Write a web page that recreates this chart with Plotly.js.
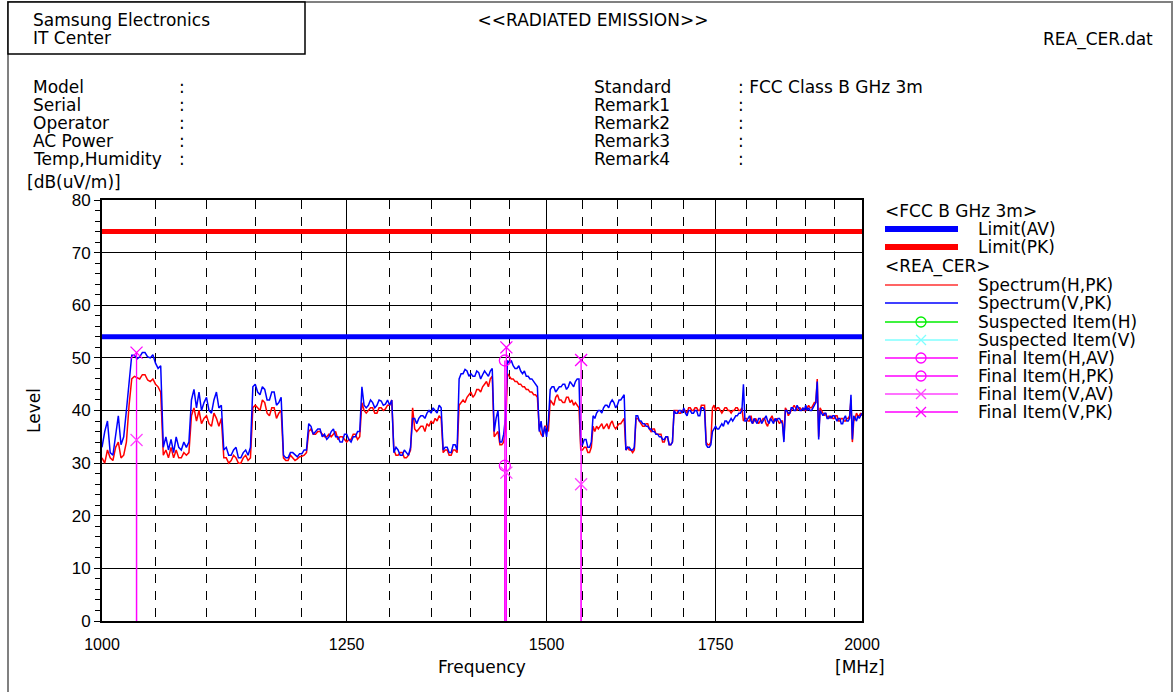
<!DOCTYPE html>
<html><head><meta charset="utf-8">
<script src="https://cdn.plot.ly/plotly-3.0.1.min.js"></script>
<style>html,body{margin:0;padding:0;background:#fff}#chart{width:1174px;height:692px}</style>
</head><body><div id="chart"></div>
<script>
// ---------- data ----------
const freq = [
1000,1002.5,1005,1007.5,1010,1012.5,1015,1017.5,1020,1022.5,1025,1027.5,1030,1032.5,1035,1037.5,1040,1042.5,1045,1047.5,
1050,1052.5,1055,1057.5,1060,1062.5,1065,1067.5,1070,1072.5,1075,1077.5,1080,1082.5,1085,1087.5,1090,1092.5,1095,1097.5,
1100,1102.5,1105,1107.5,1110,1112.5,1115,1117.5,1120,1122.5,1125,1127.5,1130,1132.5,1135,1137.5,1140,1142.5,1145,1147.5,
1150,1152.5,1155,1157.5,1160,1162.5,1165,1167.5,1170,1172.5,1175,1177.5,1180,1182.5,1185,1187.5,1190,1192.5,1195,1197.5,
1200,1202.5,1205,1207.5,1210,1212.5,1215,1217.5,1220,1222.5,1225,1227.5,1230,1232.5,1235,1237.5,1240,1242.5,1245,1247.5,
1250,1252.5,1255,1257.5,1260,1262.5,1265,1267.5,1270,1272.5,1275,1277.5,1280,1282.5,1285,1287.5,1290,1292.5,1295,1297.5,
1300,1302.5,1305,1307.5,1310,1312.5,1315,1317.5,1320,1322.5,1325,1327.5,1330,1332.5,1335,1337.5,1340,1342.5,1345,1347.5,
1350,1352.5,1355,1357.5,1360,1362.5,1365,1367.5,1370,1372.5,1375,1377.5,1380,1382.5,1385,1387.5,1390,1392.5,1395,1397.5,
1400,1402.5,1405,1407.5,1410,1412.5,1415,1417.5,1420,1422.5,1425,1427.5,1430,1432.5,1435,1437.5,1440,1442.5,1445,1447.5,
1450,1452.5,1455,1457.5,1460,1462.5,1465,1467.5,1470,1472.5,1475,1477.5,1480,1482.5,1485,1487.5,1490,1492.5,1495,1497.5,
1500,1502.5,1505,1507.5,1510,1512.5,1515,1517.5,1520,1522.5,1525,1527.5,1530,1532.5,1535,1537.5,1540,1542.5,1545,1547.5,
1550,1552.5,1555,1557.5,1560,1562.5,1565,1567.5,1570,1572.5,1575,1577.5,1580,1582.5,1585,1587.5,1590,1592.5,1595,1597.5,
1600,1602.5,1605,1607.5,1610,1612.5,1615,1617.5,1620,1622.5,1625,1627.5,1630,1632.5,1635,1637.5,1640,1642.5,1645,1647.5,
1650,1652.5,1655,1657.5,1660,1662.5,1665,1667.5,1670,1672.5,1675,1677.5,1680,1682.5,1685,1687.5,1690,1692.5,1695,1697.5,
1700,1702.5,1705,1707.5,1710,1712.5,1715,1717.5,1720,1722.5,1725,1727.5,1730,1732.5,1735,1737.5,1740,1742.5,1745,1747.5,
1750,1752.5,1755,1757.5,1760,1762.5,1765,1767.5,1770,1772.5,1775,1777.5,1780,1782.5,1785,1787.5,1790,1792.5,1795,1797.5,
1800,1802.5,1805,1807.5,1810,1812.5,1815,1817.5,1820,1822.5,1825,1827.5,1830,1832.5,1835,1837.5,1840,1842.5,1845,1847.5,
1850,1852.5,1855,1857.5,1860,1862.5,1865,1867.5,1870,1872.5,1875,1877.5,1880,1882.5,1885,1887.5,1890,1892.5,1895,1897.5,
1900,1902.5,1905,1907.5,1910,1912.5,1915,1917.5,1920,1922.5,1925,1927.5,1930,1932.5,1935,1937.5,1940,1942.5,1945,1947.5,
1950,1952.5,1955,1957.5,1960,1962.5,1965,1967.5,1970,1972.5,1975,1977.5,1980,1982.5,1985,1987.5,1990,1992.5,1995,1997.5,
2000];
const spectrumV = [
33,36,38,32,31.5,35,39,33.5,35,40,46,50.5,50.5,49.8,50.2,51,51,50.2,50,50.6,
49,48,48.5,33,35,32.5,34.5,32,35,33,32.5,34,33,34,42,44,40.5,43.5,40,41.5,
42.5,40,39.5,42,43.5,40.5,41,32.5,33,31.5,31.5,32.5,33,31,31,32,32.5,31.5,33,44.5,
45,43.5,43,44.5,44,42,42,43.5,43.5,41,41.5,42.5,31.5,31,31,32,32,31.5,31.2,31.8,
31.8,32.5,32.5,37.5,37,35.5,36,36.5,36.5,35,35.5,34.5,35,36,36.5,35,35,34,34,35.5,
35.5,34.5,34,35,35,36,36,44.5,41,40.5,41,42,41.5,40.5,41,42,41.8,41,41.2,42,
41,42,32,33,32.5,31.5,31.5,32.5,32,31.5,33,38.5,38.5,37.5,38.5,39,39,38.5,39.5,40,
39.5,40.5,40,39.5,41,40.5,32.5,33,33,32,32,33.5,33.5,32.5,46,47,47,47.8,47.5,46.5,
47,46.5,46.5,47.5,47.2,46,46.8,47.5,47,46.5,47.5,48,36,38.5,40,34,34,35.5,39,49.5,
49,49.5,48.5,48,48,48.5,47.5,47,47.5,46.5,46.5,46,46,45.5,45,44.5,36,38,35,37,
35,38,44,44.5,44.5,43.5,44,44.5,44.5,45,45,44,44.5,45.5,45,44.5,45.5,46,46,33.5,
33.5,34.5,34.5,33,33,34,39,38.5,39.5,40,40,39.5,40.5,41,41,40.5,41.5,42,41.5,40.5,
41,42,42,42.5,43,32.5,33,33,32.5,32.5,33,39,39,38,38,37.5,37.5,37,37,36.5,
36.5,36,36,35.5,35.5,35,35,34.5,34.5,35,35,33.5,33.5,34,40,39.5,39.5,40,40,39.5,
40.5,39.5,39,40,40,39.5,39.5,40,40,39,39,40.5,40.5,40,33.5,33,33,33.5,36,36.5,
37,36.5,36.5,37,37.5,37,38,38,37.5,38,38.5,38,38.5,39,39,39.5,39.5,40,45,38,
38,38.5,39,38,37.5,38.5,38,37.5,38.5,38.5,37.5,38,38.5,39,38,37.5,38.5,38,37.5,38.5,
38,38.5,38.5,38,37.5,34,40,40,39.5,39.5,40.5,40.5,40,40,41,40.5,40,40,40.5,40,
41,40,40.5,40,40,40.5,41,41.5,45.5,34.5,40,39.5,39,39.5,39.5,38.5,38.5,39,38.5,39,
39,38.5,38,38.5,38.5,37.5,37.5,38.5,39,38,38,38.5,43,34.5,39,38.5,38,39,38.5,39,
39.5];
const spectrumH = [
31,30,32.5,31,30.5,33,34,31,31.5,34,41,46,46.5,46.2,46,46.8,46.8,45.8,45.5,46,
45,44.5,43.5,31.5,32.5,31,33,31,32.5,31,31,32,31.5,32,39,40.5,38,40,37.5,38.5,
39,37.5,37,39.5,38.5,37,38.5,31,31,30,30.5,31.5,31,30,30,31,31.5,30.5,31,40.5,
41,40.5,40,42,41.5,39.5,39,40.5,40.5,38.5,39.5,40,31,30.5,30.5,31.5,31,30.5,30.8,31.2,
31.3,31.5,32,36,36.5,35.5,35.5,36,36,35.5,35,35,35.5,35,35.5,36,34.5,35,35,34.5,
34,34.5,34.5,35.5,35.5,34.5,35,41.5,40,39.5,40,40.5,40.5,39.5,39.5,40.5,40.5,40,40.3,41,
41,42,32.5,31.5,31.5,32,32,31,31,31.5,32.5,40.5,36.5,36,36.5,37,37,36,37.5,37,
38,37.5,38.5,38,39,38.5,32,32.5,32.5,31.5,31.5,32.5,32.5,32,41,41.5,42,41.5,42.5,43,
43.5,42.5,43,44,44,43.5,44.5,45,45.5,44.5,46,46.5,35,35.5,36,33.5,33.5,34,36.5,47,
46.5,46,46,45.5,45.5,45,45,44.5,44.5,44,44,43.5,43.5,43,43,42.5,36.5,35.5,35,37,
37,36,42,41.5,41,42.5,43,42,42,41.5,41.5,42.5,42.5,41.5,42,41,41.5,41,40.5,32.5,
32.5,33,33,32,32,33,37,36,37,36.5,37,37.5,36.5,37,37.5,36.5,37.5,38,37,36.5,
37,37.5,37.5,38,38.5,32.5,33,32.5,32.5,32,32.5,38.5,38.5,38,37.5,37,37,37.5,37.5,36.5,
36,36.5,36.5,35.5,35.5,35.5,35.5,34,34,35,35,33.5,33.5,34,40,40,40,39.5,39.5,40,
40,40,39.5,40.5,40.5,40,40,40.5,40.5,40,40,41,41,41,34,33.5,33.5,34,40.5,41,
40,40.5,40.5,40,39.5,40,40.5,40.5,40,40,39.5,40,40,40.5,40.5,40,40,40.5,38,38.5,
38.5,38,38,39,37.5,38,38.5,38,37.5,38,38,38.5,38.5,37.5,37,38,38.5,39,38,38,
38.5,38,37.5,38,38,34.5,40.5,40,39,39.5,40,40.5,41,40.5,40,40.5,40.5,40,40.5,40,
40,40.5,41,40.5,40.5,41,41.5,41.5,46,35,40.5,40,39.5,39,39.5,38.5,39,38.5,39,38.5,
38.5,39,39,38,38,38.5,38.5,38,38,38.5,38.5,39,42,34,38,38.5,39.5,39,39,39.5,
39];
const limitFreq = [1000, 2000];
const limitAV = [54, 54];
const limitPK = [74, 74];
const finalHAVFreq = [1444], finalHAV = [29.5];
const finalHPKFreq = [1444], finalHPK = [49.5];
const finalVAVFreq = [1032, 1446, 1548], finalVAV = [34.4, 28.2, 26];
const finalVPKFreq = [1032, 1446, 1548], finalVPK = [51, 52, 49.6];
const xTickVals = [1000, 1250, 1500, 1750, 2000];
const xTickText = ['1000', '1250', '1500', '1750', '2000'];
const xMinorVals = [1050,1100,1150,1200,1300,1350,1400,1450,1550,1600,1650,1700,1800,1850,1900,1950];
const yTickVals = [0,10,20,30,40,50,60,70,80];

// ---------- helpers ----------
const FONT = 'DejaVu Sans, Verdana, sans-serif';
const TFONT = 'Liberation Sans, Arial, sans-serif';
const PL = 102, PR = 862, PT = 200, PB = 621;
const px = x => (x - PL) / (PR - PL);
const py = y => (PB - y) / (PB - PT);
function stems(fs, vs) {
  const X = [], Y = [];
  fs.forEach((f, i) => { X.push(f, f, null); Y.push(0, vs[i], null); });
  return {X, Y};
}
const MAG = '#ff00ff', MAG2 = '#ff44ff';

const traces = [
  {x: limitFreq, y: limitPK, mode: 'lines', line: {color: '#ff0000', width: 5}, name: 'Limit(PK)'},
  {x: limitFreq, y: limitAV, mode: 'lines', line: {color: '#0000ff', width: 5}, name: 'Limit(AV)'},
  {x: freq, y: spectrumH, mode: 'lines', line: {color: '#ff0000', width: 1.5}, name: 'Spectrum(H,PK)'},
  {x: freq, y: spectrumV, mode: 'lines', line: {color: '#0000ff', width: 1.5}, name: 'Spectrum(V,PK)'}
];
[[finalHAVFreq, finalHAV, MAG], [finalHPKFreq, finalHPK, MAG], [finalVAVFreq, finalVAV, MAG2], [finalVPKFreq, finalVPK, MAG]].forEach(([f, v, c]) => {
  const s = stems(f, v);
  traces.push({x: s.X, y: s.Y, mode: 'lines', line: {color: c, width: 1.3}, hoverinfo: 'skip'});
});
traces.push({x: finalHAVFreq, y: finalHAV, mode: 'markers', name: 'Final Item(H,AV)', marker: {symbol: 'circle-open', size: 11, color: MAG, line: {width: 1.3}}});
traces.push({x: finalHPKFreq, y: finalHPK, mode: 'markers', name: 'Final Item(H,PK)', marker: {symbol: 'circle-open', size: 11, color: MAG, line: {width: 1.3}}});
traces.push({x: finalVAVFreq, y: finalVAV, mode: 'markers', name: 'Final Item(V,AV)', marker: {symbol: 'x-thin-open', size: 12, color: MAG2, line: {width: 1.3, color: MAG2}}});
traces.push({x: finalVPKFreq, y: finalVPK, mode: 'markers', name: 'Final Item(V,PK)', marker: {symbol: 'x-thin-open', size: 12, color: MAG, line: {width: 1.3, color: MAG}}});

// ---------- annotations ----------
const anns = [];
function ann(text, x, y, xanchor, extra) {
  anns.push(Object.assign({text, x: px(x), y: py(y), xref: 'paper', yref: 'paper', xanchor: xanchor || 'left', yanchor: 'middle', showarrow: false, font: {family: FONT, size: 17, color: '#000'}, borderpad: 0}, extra || {}));
}
ann('Samsung Electronics', 32, 20);
ann('IT Center', 32, 38);
ann('REA_CER.dat', 1154, 39, 'right');
const leftLabels = ['Model', 'Serial', 'Operator', 'AC Power', 'Temp,Humidity'];
const rightLabels = ['Standard', 'Remark1', 'Remark2', 'Remark3', 'Remark4'];
const rightValues = [': FCC Class B GHz 3m', ':', ':', ':', ':'];
leftLabels.forEach((t, i) => { ann(t, 32, 87 + 18 * i); ann(':', 178, 87 + 18 * i); });
rightLabels.forEach((t, i) => { ann(t, 593, 87 + 18 * i); ann(rightValues[i], 737, 87 + 18 * i); });
ann('[dB(uV/m)]', 26, 182);
ann('[MHz]', 834, 667);

// legend (drawn)
const shapes = [];
const legRows = [
  {head: '<FCC B GHz 3m>', y: 211},
  {text: 'Limit(AV)', y: 229, color: '#0000ff', w: 6},
  {text: 'Limit(PK)', y: 247, color: '#ff0000', w: 6},
  {head: '<REA_CER>', y: 266},
  {text: 'Spectrum(H,PK)', y: 285, color: '#ff3030', w: 1.3},
  {text: 'Spectrum(V,PK)', y: 303, color: '#0000ff', w: 1.3},
  {text: 'Suspected Item(H)', y: 322, color: '#00ee00', w: 1.3, sym: 'o'},
  {text: 'Suspected Item(V)', y: 340, color: '#80ffff', w: 1.3, sym: 'x'},
  {text: 'Final Item(H,AV)', y: 358, color: MAG, w: 1.3, sym: 'o'},
  {text: 'Final Item(H,PK)', y: 376, color: MAG, w: 1.3, sym: 'o'},
  {text: 'Final Item(V,AV)', y: 394, color: MAG2, w: 1.3, sym: 'x'},
  {text: 'Final Item(V,PK)', y: 412, color: MAG, w: 1.3, sym: 'x'}
];
legRows.forEach(r => {
  if (r.head) { ann(r.head, 884, r.y); return; }
  ann(r.text, 977, r.y);
  shapes.push({type: 'line', xref: 'paper', yref: 'paper', x0: px(885), x1: px(958), y0: py(r.y), y1: py(r.y), line: {color: r.color, width: r.w}});
  if (r.sym === 'o') shapes.push({type: 'circle', xref: 'paper', yref: 'paper', xsizemode: 'pixel', ysizemode: 'pixel', xanchor: px(921), yanchor: py(r.y), x0: -5, x1: 5, y0: -5, y1: 5, line: {color: r.color, width: 1.3}});
  if (r.sym === 'x') shapes.push({type: 'path', xref: 'paper', yref: 'paper', xsizemode: 'pixel', ysizemode: 'pixel', xanchor: px(921), yanchor: py(r.y), path: 'M-5,-5L5,5M-5,5L5,-5', line: {color: r.color, width: 1.3}});
});
// page frame and header box
shapes.push({type: 'rect', xref: 'paper', yref: 'paper', x0: px(8), x1: px(1172), y0: py(2), y1: py(700), line: {color: '#808080', width: 2}, layer: 'below'});
shapes.push({type: 'rect', xref: 'paper', yref: 'paper', x0: px(8), x1: px(305), y0: py(2), y1: py(54), line: {color: '#000', width: 1.5}, fillcolor: '#fff'});

const layout = {
  width: 1174, height: 692,
  margin: {l: PL, r: 1174 - PR, t: PT, b: 692 - PB},
  paper_bgcolor: '#fff', plot_bgcolor: '#fff',
  showlegend: false,
  font: {family: FONT, size: 16, color: '#000'},
  title: {text: '&lt;&lt;RADIATED EMISSION&gt;&gt;', x: 593 / 1174, xanchor: 'center', xref: 'container', y: 1 - 20 / 692, yanchor: 'middle', yref: 'container', font: {family: FONT, size: 17, color: '#000'}},
  xaxis: {
    type: 'log', range: [3, Math.log10(2000)], tickmode: 'array', tickvals: xTickVals, ticktext: xTickText,
    showgrid: true, gridcolor: '#000', gridwidth: 1, zeroline: false,
    showline: true, mirror: true, linecolor: '#000', linewidth: 2, ticks: '', ticklabelstandoff: 8,
    tickfont: {family: TFONT, size: 16, color: '#000'},
    minor: {tickmode: 'array', tickvals: xMinorVals, showgrid: true, gridcolor: '#000', gridwidth: 1, griddash: '9px,8px', ticks: ''},
    title: {text: 'Frequency', font: {family: FONT, size: 17, color: '#000'}, standoff: 9}
  },
  yaxis: {
    range: [0, 80], tickmode: 'array', tickvals: yTickVals, showgrid: true, gridcolor: '#000', gridwidth: 1, zeroline: false,
    showline: true, mirror: true, linecolor: '#000', linewidth: 2, ticks: 'outside', ticklen: 6, tickcolor: '#000', tickwidth: 1,
    tickfont: {family: TFONT, size: 17, color: '#000'},
    minor: {dtick: 2, ticks: 'outside', ticklen: 5, tickcolor: '#000', tickwidth: 1, showgrid: false},
    title: {text: 'Level', font: {family: FONT, size: 17, color: '#000'}, standoff: 27}
  },
  annotations: anns,
  shapes: shapes
};
Plotly.newPlot('chart', traces, layout, {displayModeBar: false, staticPlot: true});
</script></body></html>
